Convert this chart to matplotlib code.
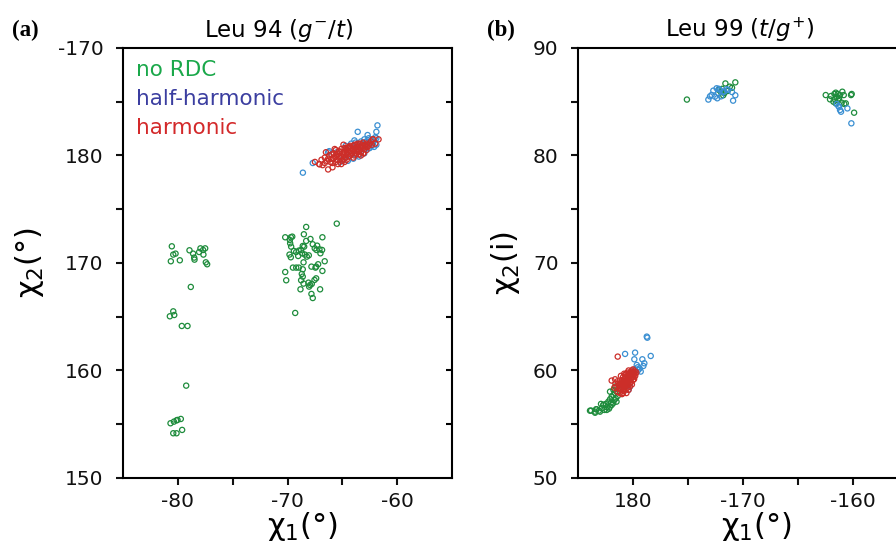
import numpy as np
import matplotlib
matplotlib.use("Agg")
import matplotlib.pyplot as plt

plt.rcParams['font.family'] = ['DejaVu Sans']
plt.rcParams['mathtext.fontset'] = 'dejavusans'
plt.rcParams['axes.unicode_minus'] = False

GREEN = '#1e8c3c'
BLUE = '#3a8fd2'
RED = '#cc2e29'

# ---- Leu 94 : chi1 / chi2 (chi2 unwrapped, 190 == -170) ----
a_norc_x = [-80.55, -80.42, -80.21, -80.64, -79.82, -78.94, -78.61, -78.51, -78.48, -78.06,
            -77.94, -77.70, -77.51, -77.67, -77.45, -77.33, -78.82, -80.42, -80.73, -80.33,
            -79.64, -79.12, -79.24, -80.67, -80.36, -80.12, -80.03, -79.73, -80.42, -80.12,
            -79.61,
            -70.21, -69.70, -69.57, -69.79, -69.76, -69.67, -69.42, -69.21, -68.97, -68.51,
            -68.30, -67.91, -68.30, -68.61, -68.48, -68.76, -68.67, -68.42, -68.24, -68.06,
            -67.70, -67.52, -67.36, -67.30, -67.09, -66.85, -66.82, -67.00, -66.61, -66.82,
            -67.39, -67.21, -67.82, -67.45, -68.54, -69.21, -68.97, -68.61, -69.51, -70.21,
            -70.12, -68.70, -68.61, -68.76, -68.54, -68.82, -68.09, -67.94, -68.03, -67.79,
            -67.54, -67.39, -67.03, -67.82, -67.70, -69.30, -65.51, -69.82, -69.70, -69.03]
a_norc_y = [171.55, 170.78, 170.87, 170.16, 170.25, 171.18, 170.87, 170.50, 170.31, 171.02,
            171.36, 171.21, 171.36, 170.78, 170.06, 169.88, 167.77, 165.50, 165.04, 165.16,
            164.14, 164.14, 158.59, 155.09, 155.24, 155.36, 155.40, 155.49, 154.16, 154.16,
            154.47,
            172.39, 172.39, 172.45, 172.14, 171.83, 171.52, 171.12, 171.02, 171.15, 172.67,
            173.35, 172.23, 172.05, 171.58, 171.52, 171.21, 170.90, 170.78, 170.59, 170.71,
            171.74, 171.36, 171.21, 171.61, 171.27, 171.21, 172.39, 170.90, 170.16, 169.26,
            169.66, 169.88, 169.66, 169.57, 170.06, 169.57, 169.57, 169.41, 169.57, 169.16,
            168.39, 168.98, 168.73, 168.39, 168.08, 167.55, 168.17, 167.95, 167.80, 168.05,
            168.42, 168.57, 167.55, 167.12, 166.74, 165.35, 173.66, 170.78, 170.53, 170.65]

a_half_x = [-61.8, -63.6, -61.9, -63.9, -61.9, -62.5, -66.2, -67.7, -68.6, -65.2,
            -66.3, -62.8, -62.6, -62.4, -63.0, -63.3, -64.2, -64.7, -63.5, -64.0,
            -64.5, -65.0, -62.9, -62.3, -63.8, -65.5, -64.3, -62.0, -62.7, -63.76,
            -63.45, -63.15, -62.85, -62.6, -63.0, -62.2, -61.9, -62.1]
a_half_y = [182.8, 182.2, 182.2, 181.4, 181.0, 180.7, 180.4, 179.3, 178.4, 179.4,
            180.3, 181.3, 181.6, 181.4, 181.5, 181.3, 181.1, 180.9, 179.9, 179.7,
            179.5, 179.6, 180.6, 180.9, 181.2, 180.3, 180.0, 181.7, 181.9, 180.04,
            180.51, 181.13, 181.28, 180.66, 180.2, 181.2, 181.6, 180.8]

a_harm_x = [-67.5, -67.1, -66.9, -66.6, -66.4, -66.3, -66.2, -66.0, -65.9, -65.8,
            -65.7, -65.6, -65.5, -65.4, -65.3, -65.2, -65.1, -65.0, -65.0, -64.9,
            -64.8, -64.8, -64.7, -64.6, -64.5, -64.4, -64.4, -64.3, -64.2, -64.1,
            -64.0, -64.0, -63.9, -63.8, -63.7, -63.7, -63.6, -63.5, -63.4, -63.3,
            -63.2, -63.1, -63.0, -62.9, -62.7, -62.5, -62.3, -62.2, -61.7, -62.0,
            -63.1, -65.9, -66.8, -65.4, -64.6, -63.5, -65.7, -64.9, -66.5, -62.24,
            -63.06, -67.09,
            -66.6, -66.1, -65.6, -65.3, -65.1, -64.9, -64.6, -64.4, -64.2, -64.1,
            -63.9, -63.8, -63.6, -63.4, -63.3, -63.2, -62.9, -62.8, -62.6, -62.4,
            -64.7, -64.5, -65.2, -65.5, -65.8, -66.0, -66.3, -64.3, -63.9, -63.6,
            -64.8, -65.1, -64.0, -63.3, -62.8]
a_harm_y = [179.4, 179.2, 179.6, 179.8, 179.5, 178.7, 180.0, 179.7, 179.3, 180.2,
            179.9, 180.5, 179.6, 180.1, 180.4, 179.8, 180.6, 180.2, 179.5, 180.0,
            180.7, 180.3, 179.8, 180.5, 180.1, 180.8, 179.9, 180.4, 180.7, 180.2,
            180.9, 180.5, 180.0, 180.7, 181.0, 180.4, 180.8, 180.5, 181.1, 180.7,
            180.9, 181.2, 180.6, 181.0, 180.8, 181.1, 181.0, 181.5, 181.5, 181.1,
            180.2, 178.9, 179.1, 179.2, 179.6, 180.1, 180.6, 181.0, 180.3, 181.51,
            180.2, 179.18,
            179.3, 179.4, 179.4, 179.9, 179.9, 179.7, 180.2, 180.3, 180.1, 180.6,
            180.4, 180.2, 180.6, 180.7, 180.3, 181.0, 180.8, 181.1, 181.0, 181.3,
            180.6, 180.7, 180.3, 180.0, 179.7, 180.1, 179.7, 180.9, 181.0, 181.1,
            179.4, 179.2, 179.8, 180.0, 180.5]

# ---- Leu 99 : chi1 unwrapped (190 == -170) ----
b_norc_x = [184.9, 188.4, 189.3, 189.0, 188.3, 188.1, 188.0, 188.6, 188.8, 187.8, 188.2,
            197.52, 198.0, 198.31, 198.43, 198.61, 198.82, 199.03, 199.16, 199.82, 199.88,
            197.91, 198.22, 198.43, 198.67, 198.97, 199.2, 199.34, 200.1, 198.52, 198.73,
            198.37,
            176.19, 176.55, 176.7, 176.91, 177.16, 177.31, 177.52, 177.76, 177.91, 178.06,
            178.22, 178.37, 178.52, 178.67, 178.31, 178.0, 177.61, 177.09, 177.4, 177.82,
            178.06, 178.43, 178.61, 178.22, 177.91, 178.37,
            176.09, 176.55, 176.64, 177.0, 177.3, 177.61, 177.9, 178.2, 178.5]
b_norc_y = [85.2, 86.7, 86.8, 86.3, 85.8, 86.2, 85.9, 86.0, 86.4, 86.1, 85.6,
            85.62, 85.53, 85.72, 85.84, 85.72, 85.62, 85.93, 85.62, 85.62, 85.72,
            85.22, 85.0, 84.85, 85.1, 84.91, 84.79, 84.85, 83.98, 85.47, 85.31,
            85.22,
            56.27, 56.17, 56.39, 56.27, 56.48, 56.79, 56.89, 57.1, 57.32, 57.57,
            57.72, 57.88, 58.03, 58.34, 57.26, 57.01, 56.58, 56.89, 56.33, 56.45,
            56.79, 57.41, 57.63, 58.19, 58.03, 58.5,
            56.26, 56.07, 56.39, 56.17, 56.79, 56.33, 56.64, 56.96, 57.1]

b_half_x = [186.85, 189.1, 189.3, 187.15, 187.3, 187.6, 187.75, 187.9, 188.5, 188.66,
            187.45, 187.66, 187.0, 188.2, 187.8, 188.0, 188.3, 189.0,
            198.52, 198.73, 198.82, 198.91, 199.49, 199.85, 198.67,
            181.25, 181.3, 179.28, 180.19, 181.61, 180.12, 180.85, 181.03, 180.94, 180.43,
            180.19, 180.03, 179.88, 180.34, 180.49, 179.73, 179.58, 180.6, 180.7]
b_half_y = [85.2, 85.1, 85.6, 85.63, 86.03, 86.25, 85.79, 86.1, 86.16, 86.1,
            85.47, 85.32, 85.5, 85.9, 86.2, 85.5, 85.95, 85.9,
            84.79, 84.54, 84.23, 84.07, 84.38, 82.99, 84.6,
            63.15, 63.05, 61.54, 61.66, 61.35, 61.04, 61.04, 60.67, 60.42, 60.3,
            60.11, 59.89, 59.74, 60.51, 60.05, 58.5, 58.19, 60.2, 59.9]

b_harm_x = [178.6, 178.8, 178.7, 178.9, 178.5, 178.8, 179.0, 179.1, 178.9, 179.1,
            179.2, 179.3, 179.0, 179.2, 179.3, 179.4, 179.5, 179.1, 179.3, 179.4,
            179.5, 179.6, 179.7, 179.3, 179.5, 179.6, 179.7, 179.8, 179.5, 179.7,
            179.8, 179.9, 180.0, 179.8, 180.0, 180.1, 180.2, 179.6, 179.4, 178.9,
            179.2, 179.9, 180.1, 179.0, 178.4, 178.6, 178.3, 179.6, 180.0, 178.61,
            178.06, 178.37,
            179.0, 179.2, 179.4, 179.6, 179.8, 179.3, 179.5, 179.7, 179.9, 180.1,
            179.4, 179.6, 179.2, 178.9, 178.7, 179.1, 179.3, 179.5, 179.7, 180.0,
            180.2, 180.3, 179.9, 178.8, 179.1]
b_harm_y = [58.0, 57.9, 58.3, 58.2, 58.5, 58.6, 58.4, 58.1, 58.9, 58.7,
            58.5, 58.2, 59.1, 59.0, 58.8, 58.6, 58.4, 59.4, 59.3, 59.1,
            58.9, 58.7, 58.5, 59.6, 59.5, 59.3, 59.1, 58.9, 59.8, 59.7,
            59.5, 59.3, 59.1, 59.9, 59.8, 59.6, 59.9, 58.2, 57.9, 59.5,
            59.7, 58.7, 59.2, 57.8, 58.8, 59.0, 58.4, 60.0, 60.1, 61.29,
            59.06, 59.18,
            58.6, 58.3, 58.9, 59.1, 59.3, 59.0, 59.2, 59.4, 59.6, 59.8,
            59.7, 59.6, 59.2, 58.8, 58.7, 58.9, 58.5, 58.7, 58.8, 59.4,
            59.5, 59.8, 60.0, 58.3, 57.9]

fig = plt.figure(figsize=(8.96, 5.52), dpi=100)
ax1 = fig.add_axes([0.1373, 0.1341, 0.3672, 0.779])
ax2 = fig.add_axes([0.6451, 0.1341, 0.3683, 0.779])


def pts(ax, x, y, c):
    ax.scatter(x, y, s=14, facecolors='none', edgecolors=c, linewidths=0.9, zorder=3)


def style(ax, major, minor):
    for sp in ax.spines.values():
        sp.set_linewidth(1.5)
    ax.tick_params(axis='both', which='both', direction='out', length=5, width=1.5,
                   labelsize=14.5, colors='#111111')
    ax.tick_params(axis='x', pad=5)
    ax.tick_params(axis='y', pad=9)
    # short inward ticks on the right-hand spine
    sec = ax.secondary_yaxis('right')
    sec.set_yticks(major)
    sec.set_yticks(minor, minor=True)
    sec.tick_params(which='both', direction='in', length=4, width=1.5, labelright=False)
    sec.spines['right'].set_visible(False)


pts(ax1, a_norc_x, a_norc_y, GREEN)
pts(ax1, a_half_x, a_half_y, BLUE)
pts(ax1, a_harm_x, a_harm_y, RED)
ax1.set_xlim(-85, -55)
ax1.set_ylim(150, 190)
ax1.set_xticks([-80, -70, -60])
ax1.set_xticks([-75, -65], minor=True)
ax1.set_yticks([150, 160, 170, 180, 190])
ax1.set_yticklabels(['150', '160', '170', '180', '-170'])
ax1.set_yticks([155, 165, 175, 185], minor=True)
style(ax1, [160, 170, 180], [155, 165, 175, 185])
ax1.set_title(r'Leu 94 ($g^{-}$/$t$)', fontsize=16.5, pad=8, x=0.472)
ax1.set_xlabel(r'χ$_1$(°)', fontsize=22)
ax1.xaxis.set_label_coords(0.545, -0.075)
ax1.set_ylabel(r'χ$_2$(°)', fontsize=22)
ax1.yaxis.set_label_coords(-0.235, 0.5)
ax1.text(0.04, 0.972, 'no RDC', color='#1aa84a', fontsize=15.5, transform=ax1.transAxes, va='top')
ax1.text(0.04, 0.904, 'half-harmonic', color='#3b3ea0', fontsize=15.5, transform=ax1.transAxes, va='top')
ax1.text(0.04, 0.836, 'harmonic', color='#d3292a', fontsize=15.5, transform=ax1.transAxes, va='top')

pts(ax2, b_norc_x, b_norc_y, GREEN)
pts(ax2, b_half_x, b_half_y, BLUE)
pts(ax2, b_harm_x, b_harm_y, RED)
ax2.set_xlim(175, 205)
ax2.set_ylim(50, 90)
ax2.set_xticks([180, 190, 200])
ax2.set_xticklabels(['180', '-170', '-160'])
ax2.set_xticks([185, 195], minor=True)
ax2.set_yticks([50, 60, 70, 80, 90])
ax2.set_yticks([55, 65, 75, 85], minor=True)
style(ax2, [60, 70, 80], [55, 65, 75, 85])
ax2.set_title(r'Leu 99 ($t$/$g^{+}$)', fontsize=16.5, pad=8, x=0.49)
ax2.set_xlabel(r'χ$_1$(°)', fontsize=22)
ax2.xaxis.set_label_coords(0.54, -0.075)
ax2.set_ylabel(r'χ$_2$(i)', fontsize=22)
ax2.yaxis.set_label_coords(-0.17, 0.5)

fig.text(0.013, 0.935, '(a)', fontsize=16.5, fontweight='bold', family='Liberation Serif')
fig.text(0.543, 0.935, '(b)', fontsize=16.5, fontweight='bold', family='Liberation Serif')

fig.savefig('out.png', dpi=100)
